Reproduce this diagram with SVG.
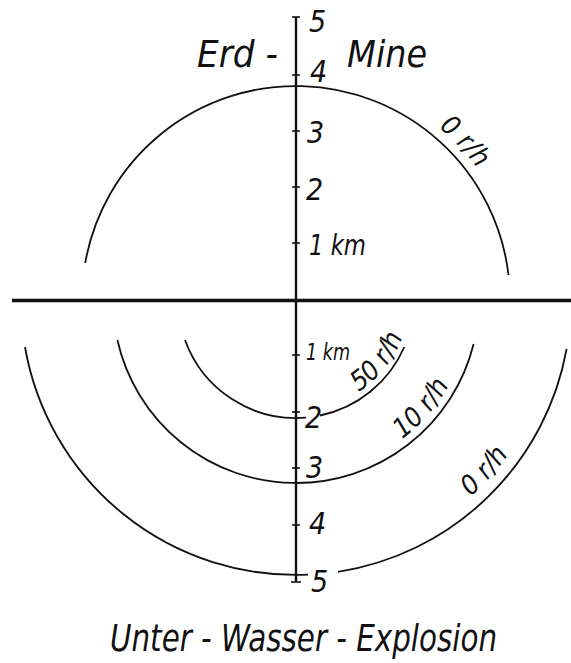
<svg xmlns="http://www.w3.org/2000/svg" width="571" height="663" viewBox="0 0 571 663">
<style>
  text { font-family: "DejaVu Sans", sans-serif; font-stretch: condensed; font-style: oblique; fill: #111; }
  .big { font-size: 38px; }
  .num { font-size: 30px; }
  .km { font-size: 28px; }
  .kms { font-size: 23px; }
  .rate { font-size: 27px; }
  .arc { fill: none; stroke: #111; stroke-width: 1.8; }
  .axis { stroke: #111; stroke-width: 2.4; fill: none; }
  .tick { stroke: #111; stroke-width: 1.6; }
  .ground { stroke: #111; stroke-width: 3.6; }
</style>
<defs>
  <path id="pUp0" d="M397,100.1 A224.5,224.5 0 0 1 501.9,211.8"/>
  <path id="p50" d="M357.5,392.5 A110,110 0 0 0 403.1,335.1"/>
  <path id="p10" d="M381.4,452.8 A176,176 0 0 0 459.6,362.1"/>
  <path id="pLo0" d="M418.7,532.6 A264,264 0 0 0 539.5,399.4"/>
</defs>

<g id="ground">
  <line class="ground" x1="12" y1="300.5" x2="571" y2="300.5"/>
</g>

<g id="axis">
  <line class="axis" x1="296" y1="17" x2="296" y2="582"/>
  <line class="tick" x1="292" y1="17" x2="300" y2="17"/>
  <line class="tick" x1="292" y1="75" x2="300" y2="75"/>
  <line class="tick" x1="292" y1="131" x2="300" y2="131"/>
  <line class="tick" x1="292" y1="187" x2="300" y2="187"/>
  <line class="tick" x1="292" y1="243" x2="300" y2="243"/>
  <line class="tick" x1="292" y1="355" x2="300" y2="355"/>
  <line class="tick" x1="292" y1="412" x2="300" y2="412"/>
  <line class="tick" x1="292" y1="468" x2="300" y2="468"/>
  <line class="tick" x1="292" y1="525" x2="300" y2="525"/>
  <line class="tick" x1="291" y1="582" x2="301" y2="582"/>
</g>

<g id="connectors">
  <path id="arc-upper-0" class="arc" d="M85.2,263 A214,214 0 0 1 508.5,275"/>
  <path id="arc-50-left" class="arc" d="M185,340 A118,118 0 0 0 306,417.6"/>
  <path id="arc-50-right" class="arc" d="M320,415.5 A118,118 0 0 0 404.3,347"/>
  <path id="arc-10" class="arc" d="M117.4,340 A183,183 0 0 0 473.6,344"/>
  <path id="arc-0-left" class="arc" d="M25,347 A275,275 0 0 0 308,574.7"/>
  <path id="arc-0-right" class="arc" d="M338,571.8 A275,275 0 0 0 566.6,349"/>
</g>

<g id="scale-labels">
  <text class="num" x="309" y="32">5</text>
  <text class="num" x="310" y="82">4</text>
  <text class="num" x="307" y="143">3</text>
  <text class="num" x="306" y="200">2</text>
  <text class="km" x="309" y="255" textLength="57" lengthAdjust="spacingAndGlyphs">1 km</text>
  <text class="kms" x="306" y="360" textLength="44" lengthAdjust="spacingAndGlyphs">1 km</text>
  <text class="num" x="305" y="428">2</text>
  <text class="num" x="306" y="478">3</text>
  <text class="num" x="309" y="534">4</text>
  <text class="num" x="311" y="592">5</text>
</g>

<g id="title-top">
  <text class="big" x="197" y="67" textLength="81" lengthAdjust="spacingAndGlyphs">Erd -</text>
  <text class="big" x="347" y="67" textLength="80" lengthAdjust="spacingAndGlyphs">Mine</text>
</g>

<g id="rate-labels">
  <text class="rate"><textPath href="#pUp0" startOffset="50%" text-anchor="middle">0 r/h</textPath></text>
  <text class="rate"><textPath href="#p50" startOffset="50%" text-anchor="middle">50 r/h</textPath></text>
  <text class="rate"><textPath href="#p10" startOffset="50%" text-anchor="middle">10 r/h</textPath></text>
  <text class="rate"><textPath href="#pLo0" startOffset="50%" text-anchor="middle">0 r/h</textPath></text>
</g>

<g id="title-bottom">
  <text class="big" x="110" y="651" textLength="387" lengthAdjust="spacingAndGlyphs">Unter - Wasser - Explosion</text>
</g>
</svg>
